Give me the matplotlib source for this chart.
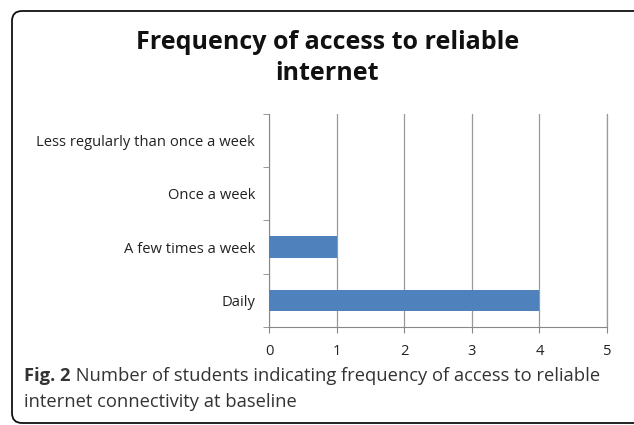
import matplotlib.pyplot as plt
from matplotlib.patches import FancyBboxPatch
from matplotlib.ticker import MultipleLocator

categories = ['Daily', 'A few times a week', 'Once a week', 'Less regularly than once a week']
students = [4, 1, 0, 0]
x_ticks = [0, 1, 2, 3, 4, 5]

plt.rcParams['font.family'] = ['Open Sans', 'DejaVu Sans']

fig = plt.figure(figsize=(6.34, 4.25), dpi=100)
ax = fig.add_axes([0.4243, 0.2306, 0.5331, 0.5012])

pos = list(range(len(categories)))
ax.barh(pos, students, height=0.4, color='#4F81BD', linewidth=0, zorder=3)

ax.set_xlim(0, 5)
ax.set_ylim(-0.5, len(categories) - 0.5)
ax.set_xticks(x_ticks)
ax.set_yticks(pos)
ax.set_yticklabels(categories)
ax.yaxis.set_minor_locator(MultipleLocator(1, offset=0.5))
ax.tick_params(axis='y', which='major', length=0, pad=10, labelsize=10.6, colors='#222222')
ax.tick_params(axis='y', which='minor', length=4, color='#888888', direction='out')
ax.tick_params(axis='x', length=4, color='#888888', pad=8, labelsize=10.6, labelcolor='#222222')

ax.grid(axis='x', color='#999999', linewidth=0.9, zorder=0)
ax.spines['top'].set_visible(False)
ax.spines['right'].set_color('#999999')
ax.spines['right'].set_linewidth(0.9)
for side in ['left', 'bottom']:
    ax.spines[side].set_color('#888888')

fig.text(0.516, 0.863, 'Frequency of access to reliable\ninternet', ha='center', va='center',
         fontsize=18, fontweight='bold', linespacing=1.33, color='#111111')

# caption
bold = fig.text(0.038, 0.104, 'Fig. 2', fontsize=13.2, fontweight='bold', color='#333333', va='baseline')
ax.annotate(' Number of students indicating frequency of access to reliable',
            xy=(1, 0), xycoords=bold, fontsize=13.2, color='#333333', va='bottom',
            annotation_clip=False)
fig.text(0.038, 0.043, 'internet connectivity at baseline', fontsize=13.2, color='#333333', va='baseline')

box = FancyBboxPatch((12, 2), 700, 412, boxstyle='round,pad=0,rounding_size=10',
                     transform=None, fill=False, edgecolor='#111111', linewidth=1.3)
fig.add_artist(box)

fig.savefig('out.png', dpi=100)
